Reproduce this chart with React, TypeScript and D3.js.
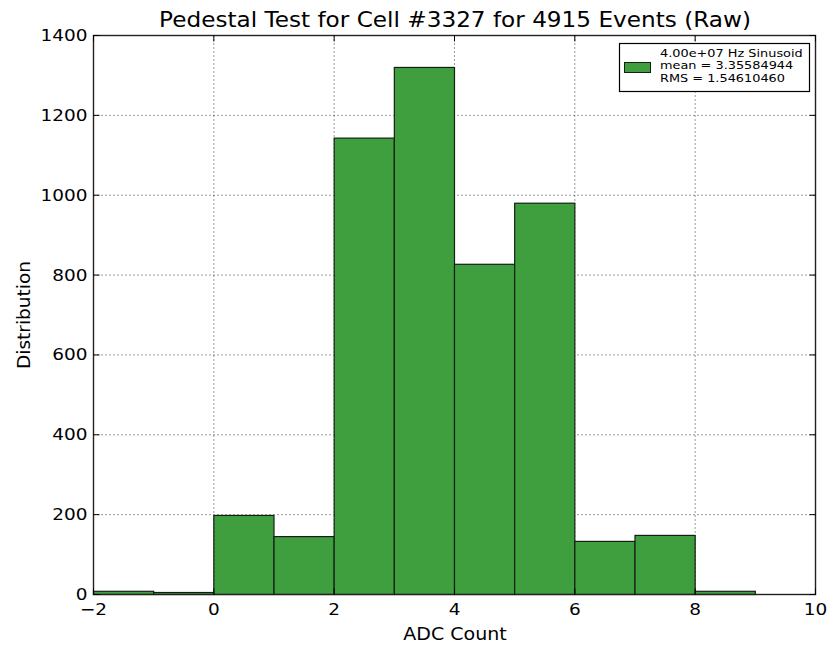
import React from "react";
import * as d3 from "d3";

// Histogram bins: left edges of each unit-wide ADC bin and their counts
const binStarts = [-2, -1, 0, 1, 2, 3, 4, 5, 6, 7, 8];
const binCounts = [8, 5, 198, 145, 1143, 1320, 827, 980, 133, 148, 8];
const xTicks = [-2, 0, 2, 4, 6, 8, 10];
const yTicks = [0, 200, 400, 600, 800, 1000, 1200, 1400];
const legendLines = ["4.00e+07 Hz Sinusoid", "mean = 3.35584944", "RMS = 1.54610460"];

const W = 829;
const H = 645;
const M = { left: 93.5, right: 815.5, top: 35.5, bottom: 594.5 };
const FONT = "DejaVu Sans, sans-serif";
const BAR_FILL = "#3f9f3f";
const BAR_EDGE = "#142014";

type LabelProps = {
  x: number;
  y: number;
  size: number;
  sx?: number;
  anchor?: "start" | "middle" | "end";
  children: React.ReactNode;
};

// Text with a slight horizontal widening
function Label({ x, y, size, sx = 1.12, anchor = "middle", children }: LabelProps) {
  return (
    <text
      transform={`translate(${x},${y}) scale(${sx},1)`}
      textAnchor={anchor}
      fontFamily={FONT}
      fontSize={size}
      fill="#000"
    >
      {children}
    </text>
  );
}

export default function App() {
  const x = d3.scaleLinear().domain([-2, 10]).range([M.left, M.right]);
  const y = d3.scaleLinear().domain([0, 1400]).range([M.bottom, M.top]);

  return (
    <svg width={W} height={H} style={{ position: "absolute", left: 0, top: 0, background: "#fff" }}>
      <rect x={0} y={0} width={W} height={H} fill="#fff" />
      {/* grid */}
      {xTicks.slice(1, -1).map((t) => (
        <line key={"gx" + t} x1={x(t)} x2={x(t)} y1={M.top} y2={M.bottom} stroke="#000" strokeWidth={0.8} strokeDasharray="1,3" />
      ))}
      {yTicks.slice(1, -1).map((t) => (
        <line key={"gy" + t} x1={M.left} x2={M.right} y1={y(t)} y2={y(t)} stroke="#000" strokeWidth={0.8} strokeDasharray="1,3" />
      ))}
      {/* bars */}
      {binStarts.map((s, i) => (
        <rect
          key={"b" + s}
          x={x(s)}
          y={y(binCounts[i])}
          width={x(s + 1) - x(s)}
          height={y(0) - y(binCounts[i])}
          fill={BAR_FILL}
          stroke={BAR_EDGE}
          strokeWidth={1.2}
        />
      ))}
      {/* frame */}
      <rect x={M.left} y={M.top} width={M.right - M.left} height={M.bottom - M.top} fill="none" stroke="#222" strokeWidth={1.4} />
      {/* ticks */}
      {xTicks.map((t) => (
        <g key={"tx" + t}>
          <line x1={x(t)} x2={x(t)} y1={M.bottom} y2={M.bottom - 6} stroke="#000" />
          <line x1={x(t)} x2={x(t)} y1={M.top} y2={M.top + 6} stroke="#000" />
          <Label x={x(t)} y={615} size={16.5}>
            {t < 0 ? "\u2212" + Math.abs(t) : t}
          </Label>
        </g>
      ))}
      {yTicks.map((t) => (
        <g key={"ty" + t}>
          <line x1={M.left} x2={M.left + 6} y1={y(t)} y2={y(t)} stroke="#000" />
          <line x1={M.right} x2={M.right - 6} y1={y(t)} y2={y(t)} stroke="#000" />
          <Label x={M.left - 6} y={y(t) + 5.5} size={16.5} anchor="end">
            {t}
          </Label>
        </g>
      ))}
      {/* titles */}
      <Label x={455} y={27} size={20.5} sx={1.13}>
        Pedestal Test for Cell #3327 for 4915 Events (Raw)
      </Label>
      <Label x={455} y={640} size={17}>
        ADC Count
      </Label>
      <text
        transform={`translate(29.5, ${(M.top + M.bottom) / 2}) rotate(-90)`}
        textAnchor="middle"
        fontFamily={FONT}
        fontSize={18.5}
        fill="#000"
      >
        Distribution
      </text>
      {/* legend */}
      <g>
        <rect x={619.5} y={43.5} width={190} height={48} fill="#fff" stroke="#000" strokeWidth={1.2} />
        <rect x={624.5} y={62.5} width={26} height={10} fill={BAR_FILL} stroke={BAR_EDGE} strokeWidth={1} />
        {legendLines.map((l, i) => (
          <Label key={l} x={660} y={56.5 + i * 12.8} size={11} sx={1.17} anchor="start">
            {l}
          </Label>
        ))}
      </g>
    </svg>
  );
}
